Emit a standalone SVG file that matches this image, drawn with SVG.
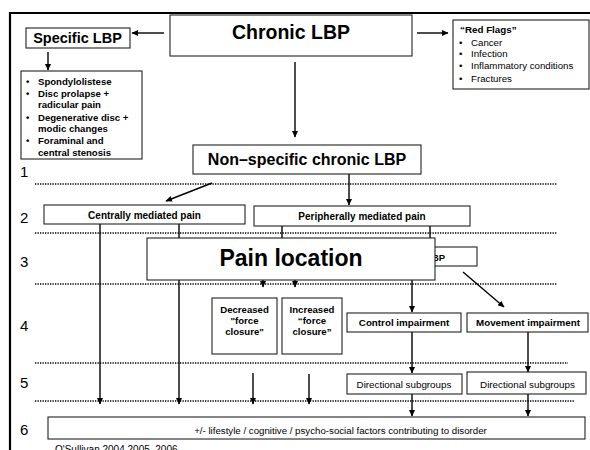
<svg xmlns="http://www.w3.org/2000/svg" width="590" height="450" viewBox="0 0 590 450">
<defs>
<marker id="ah" markerUnits="userSpaceOnUse" markerWidth="7" markerHeight="6" refX="6" refY="3" orient="auto">
<path d="M0,0 L6.5,3 L0,6 z" fill="#000"/>
</marker>
<style>
.box{fill:#fff;stroke:#222;stroke-width:1.1}
.t{font-family:"Liberation Sans",Arial,sans-serif;fill:#000}
.b{font-weight:bold}
.c{text-anchor:middle}
.ln{stroke:#000;stroke-width:1.4;fill:none}
.arr{stroke:#000;stroke-width:1.4;fill:none;marker-end:url(#ah)}
.dot{stroke:#000;stroke-width:1.6;stroke-dasharray:1.3 1.2;fill:none}
.num{font-family:"Liberation Sans",Arial,sans-serif;font-size:15px;fill:#000}
</style>
</defs>
<rect width="590" height="450" fill="#fff"/>
<g id="frame">
<line x1="10" y1="13" x2="590" y2="13" stroke="#000" stroke-width="2.2"/>
<line x1="10" y1="12" x2="10" y2="450" stroke="#000" stroke-width="2.2"/>
</g>
<g id="separators">
<line class="dot" x1="35" y1="184" x2="557" y2="184"/>
<line class="dot" x1="35" y1="233" x2="557" y2="233"/>
<line class="dot" x1="35" y1="284" x2="557" y2="284"/>
<line class="dot" x1="35" y1="363" x2="568" y2="363"/>
<line class="dot" x1="35" y1="401" x2="575" y2="401"/>
</g>
<g id="row-numbers">
<text class="num" x="20" y="177">1</text>
<text class="num" x="20" y="223">2</text>
<text class="num" x="20" y="267">3</text>
<text class="num" x="20" y="331">4</text>
<text class="num" x="20" y="388">5</text>
<text class="num" x="20" y="435">6</text>
</g>
<g id="connectors">
<line class="arr" x1="164" y1="33" x2="132" y2="33"/>
<line class="arr" x1="417" y1="33" x2="448" y2="33"/>
<line class="arr" x1="48" y1="52" x2="48" y2="70"/>
<line class="arr" x1="295" y1="62" x2="295" y2="137"/>
<line class="arr" x1="212" y1="183" x2="166" y2="201"/>
<line class="arr" x1="349" y1="174" x2="349" y2="205"/>
<line class="arr" x1="100" y1="224" x2="100" y2="404"/>
<line class="arr" x1="179" y1="224" x2="179" y2="404"/>
<line class="ln" x1="282" y1="226" x2="282" y2="240"/>
<line class="ln" x1="430" y1="226" x2="430" y2="247"/>
<line class="arr" x1="263" y1="280" x2="263" y2="287"/>
<line class="arr" x1="295" y1="280" x2="295" y2="287"/>
<line class="arr" x1="412" y1="280" x2="412" y2="312"/>
<line class="arr" x1="463" y1="272" x2="504" y2="307"/>
<line class="arr" x1="412" y1="332" x2="412" y2="373"/>
<line class="arr" x1="528" y1="332" x2="528" y2="372"/>
<line class="arr" x1="253" y1="373" x2="253" y2="404"/>
<line class="arr" x1="309" y1="374" x2="309" y2="404"/>
<line class="arr" x1="412" y1="394" x2="412" y2="416"/>
<line class="arr" x1="528" y1="394" x2="528" y2="416"/>
</g>
<g id="chronic-lbp">
<rect class="box" x="170" y="15" width="242" height="41"/>
<text class="t b c" x="291" y="39" font-size="19.5">Chronic LBP</text>
</g>
<g id="specific-lbp">
<rect class="box" x="26" y="28" width="104" height="20"/>
<text class="t b c" x="77.5" y="43" font-size="14.5">Specific LBP</text>
</g>
<g id="specific-list">
<rect class="box" x="21" y="71" width="121" height="88"/>
<g class="t b" font-size="9.6">
<text x="26" y="84.5">•</text><text x="38" y="84.5">Spondylolistese</text>
<text x="26" y="96.5">•</text><text x="38" y="96.5">Disc prolapse +</text>
<text x="38" y="108">radicular pain</text>
<text x="26" y="120.5">•</text><text x="38" y="120.5">Degenerative disc +</text>
<text x="38" y="132">modic changes</text>
<text x="26" y="144">•</text><text x="38" y="144">Foraminal and</text>
<text x="38" y="155.5">central  stenosis</text>
</g>
</g>
<g id="red-flags">
<rect class="box" x="453" y="20" width="136" height="69"/>
<text class="t b" x="460" y="33" font-size="9.8">“Red Flags”</text>
<g class="t" font-size="9.7">
<text x="459" y="45.5">•</text><text x="471" y="45.5">Cancer</text>
<text x="459" y="57">•</text><text x="471" y="57">Infection</text>
<text x="459" y="68.5">•</text><text x="471" y="68.5">Inflammatory conditions</text>
<text x="459" y="82">•</text><text x="471" y="82">Fractures</text>
</g>
</g>
<g id="non-specific">
<rect class="box" x="193" y="145" width="228" height="29"/>
<text class="t b c" x="307" y="165" font-size="16">Non–specific chronic LBP</text>
</g>
<g id="centrally">
<rect class="box" x="44" y="205" width="201" height="19"/>
<text class="t b c" x="144.5" y="218.5" font-size="10">Centrally mediated pain</text>
</g>
<g id="peripherally">
<rect class="box" x="254" y="206" width="216" height="20"/>
<text class="t b c" x="362" y="220" font-size="10">Peripherally mediated pain</text>
</g>
<g id="hidden-lbp">
<rect class="box" x="330" y="247" width="147" height="19"/>
<text class="t b" x="432" y="260.5" font-size="9.5">BP</text>
</g>
<g id="pain-location">
<rect class="box" x="147" y="238" width="288" height="42"/>
<text class="t b c" x="291" y="265.5" font-size="23">Pain location</text>
</g>
<g id="decreased">
<rect class="box" x="212" y="298" width="65" height="56"/>
<g class="t b c" font-size="9.6">
<text x="244.5" y="312.5">Decreased</text>
<text x="244.5" y="323.5">"force</text>
<text x="244.5" y="334.5">closure"</text>
</g>
</g>
<g id="increased">
<rect class="box" x="282" y="298" width="60" height="56"/>
<g class="t b c" font-size="9.6">
<text x="312" y="312.5">Increased</text>
<text x="312" y="323.5">“force</text>
<text x="312" y="334.5">closure”</text>
</g>
</g>
<g id="control">
<rect class="box" x="347" y="313" width="114" height="19"/>
<text class="t b c" x="404" y="326" font-size="9.8">Control impairment</text>
</g>
<g id="movement">
<rect class="box" x="467" y="313" width="121" height="19"/>
<text class="t b c" x="528" y="326" font-size="9.8">Movement impairment</text>
</g>
<g id="directional-1">
<rect class="box" x="347" y="374" width="115" height="20"/>
<text class="t c" x="404" y="387.5" font-size="9.8">Directional subgroups</text>
</g>
<g id="directional-2">
<rect class="box" x="467" y="372" width="119" height="22"/>
<text class="t c" x="527.5" y="387.5" font-size="9.8">Directional subgroups</text>
</g>
<g id="lifestyle">
<rect class="box" x="48" y="417" width="537" height="22"/>
<text class="t c" x="340.5" y="433.5" font-size="9.7">+/- lifestyle / cognitive / psycho-social factors contributing to disorder</text>
</g>
<text class="t" x="55" y="453" font-size="10">O'Sullivan 2004,2005, 2006</text>
</svg>
